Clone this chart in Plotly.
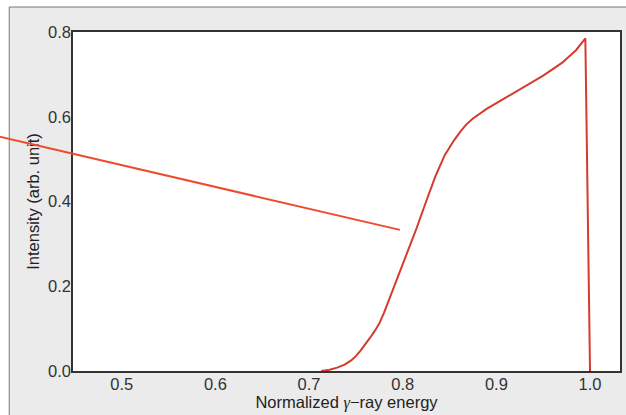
import plotly.graph_objects as go

# Spectrum curve
energy = [0.713, 0.722, 0.73, 0.738, 0.745, 0.75, 0.755, 0.76, 0.765, 0.77, 0.775,
          0.78, 0.785, 0.795, 0.805, 0.815, 0.825, 0.835, 0.845, 0.855, 0.862, 0.868,
          0.875, 0.89, 0.91, 0.93, 0.95, 0.97, 0.985, 0.995, 1.0]
intensity = [0.0, 0.003, 0.008, 0.015, 0.025, 0.035, 0.048, 0.062, 0.078, 0.094, 0.112,
             0.137, 0.165, 0.222, 0.28, 0.338, 0.40, 0.46, 0.51, 0.545, 0.566, 0.582,
             0.596, 0.619, 0.645, 0.670, 0.697, 0.727, 0.757, 0.785, 0.0]

# Callout line (tail outside the plot, head inside)
callout_x = [0.35, 0.797]
callout_y = [0.563, 0.333]

x_ticks = [0.5, 0.6, 0.7, 0.8, 0.9, 1.0]
y_ticks = [0.0, 0.2, 0.4, 0.6, 0.8]

FONT = "Liberation Sans, Arial, Helvetica, sans-serif"

fig = go.Figure()
fig.add_trace(go.Scatter(x=energy, y=intensity, mode="lines",
                         line=dict(color="#d43b2c", width=2),
                         showlegend=False, hoverinfo="skip"))

fig.add_annotation(x=callout_x[1], y=callout_y[1], ax=callout_x[0], ay=callout_y[0],
                   xref="x", yref="y", axref="x", ayref="y",
                   text="", showarrow=True, arrowhead=0, arrowwidth=2,
                   arrowcolor="#ee4b2d", standoff=0, startstandoff=0)

# white strips outside the gray panel, plus panel border
PL = -0.1166   # panel left edge (paper)
PT = 1.0737    # panel top edge (paper)
fig.add_shape(type="rect", xref="paper", yref="paper", x0=-1, x1=PL, y0=-1, y1=2,
              fillcolor="white", line=dict(width=0), layer="above")
fig.add_shape(type="rect", xref="paper", yref="paper", x0=-1, x1=2, y0=PT, y1=2,
              fillcolor="white", line=dict(width=0), layer="above")
fig.add_shape(type="line", xref="paper", yref="paper", x0=PL, x1=PL, y0=-1, y1=PT,
              line=dict(color="#777777", width=1), layer="above")
fig.add_shape(type="line", xref="paper", yref="paper", x0=PL, x1=2, y0=PT, y1=PT,
              line=dict(color="#777777", width=1), layer="above")

gamma = '<span style="font-family:\'Liberation Serif\', \'DejaVu Serif\', serif"><i>γ</i></span>'

fig.update_layout(
    width=626, height=415,
    margin=dict(l=73, r=4, t=32, b=44),
    paper_bgcolor="#ebebeb", plot_bgcolor="white",
    font=dict(family=FONT, size=16.5, color="#333333"),
    xaxis=dict(range=[0.448, 1.032], tickvals=x_ticks, tickformat=".1f",
               showgrid=False, zeroline=False, ticks="", showline=True, mirror=True,
               linecolor="#333333", linewidth=1.5, ticklabelstandoff=-3,
               title=dict(text="Normalized " + gamma + "\u2212ray energy", standoff=3,
                          font=dict(size=16.5, color="#222222"))),
    yaxis=dict(range=[0, 0.8], tickvals=y_ticks, tickformat=".1f",
               showgrid=False, zeroline=False, ticks="", showline=True, mirror=True,
               linecolor="#333333", linewidth=1.5, ticklabelstandoff=-3,
               title=dict(text="Intensity (arb. unit)", standoff=4,
                          font=dict(size=16.5, color="#222222"))),
)

fig.write_html("out.html", config={"displayModeBar": False},
               post_script="document.body.style.margin='0px';")
